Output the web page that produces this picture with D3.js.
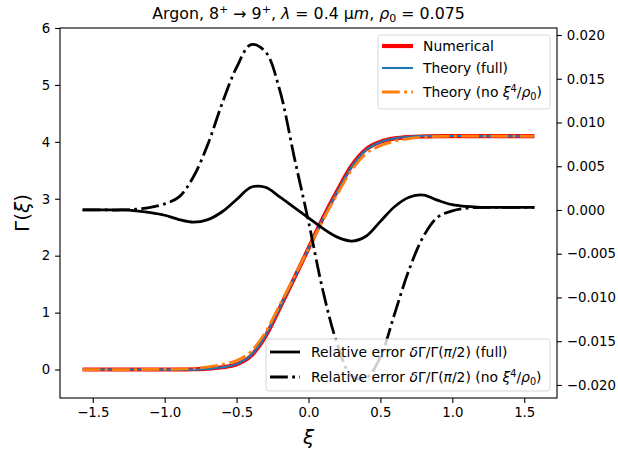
<!DOCTYPE html>
<html><head><meta charset="utf-8">
<script src="https://cdn.jsdelivr.net/npm/d3@7"></script>
<style>
body{margin:0;background:#fff}
svg{display:block}
text{font-family:"DejaVu Sans",sans-serif;white-space:pre;fill:#000}
</style>
</head><body>
<svg id="c" width="618" height="455"></svg>
<script>
// ---- data ----
const xi = [-1.5708,-1.4,-1.3,-1.2,-1.1,-1.0,-0.9,-0.8,-0.7,-0.6,-0.5,-0.4,-0.3,-0.2,-0.1,0,0.1,0.2,0.3,0.4,0.5,0.6,0.7,0.8,0.9,1.0,1.1,1.2,1.3,1.4,1.5708];
const gammaNumerical = [0,0,0,0,0,0,0.001,0.005,0.015,0.04,0.09,0.24,0.58,1.08,1.60,2.13,2.66,3.14,3.58,3.87,4.00,4.06,4.085,4.095,4.1,4.1,4.1,4.1,4.1,4.1,4.1];
const gammaTheoryFull = [0,0,0,0,0,-0.001,-0.003,-0.001,0.011,0.039,0.095,0.25,0.59,1.086,1.601,2.126,2.651,3.127,3.565,3.858,3.995,4.062,4.091,4.102,4.105,4.102,4.102,4.101,4.101,4.101,4.101];
const gammaTheoryNoXi4 = [0,0,0,0.0004,0.001,0.003,0.007,0.021,0.046,0.09,0.157,0.318,0.654,1.136,1.625,2.125,2.622,3.077,3.502,3.791,3.931,4.012,4.057,4.083,4.097,4.1,4.101,4.101,4.101,4.101,4.101];
const relErrFull = [0,0,0,-0.0001,-0.0003,-0.0006,-0.0011,-0.0014,-0.0011,-0.0002,0.0012,0.0026,0.0026,0.0015,0.0003,-0.0009,-0.0021,-0.0031,-0.00355,-0.0030,-0.0013,0.0004,0.00145,0.0017,0.0011,0.0006,0.0004,0.0003,0.0003,0.0003,0.0003];
const relErrNoXi4 = [0,0,0,0.0001,0.0003,0.0007,0.0015,0.0038,0.0075,0.0122,0.0163,0.0189,0.0181,0.0137,0.0061,-0.0013,-0.0092,-0.0153,-0.0190,-0.0192,-0.0168,-0.0118,-0.0068,-0.0030,-0.0008,-0.0001,0.0002,0.0003,0.0003,0.0003,0.0003];
const xTicks = [-1.5,-1.0,-0.5,0.0,0.5,1.0,1.5];
const yLeftTicks = [0,1,2,3,4,5,6];
const yRightTicks = [-0.020,-0.015,-0.010,-0.005,0.000,0.005,0.010,0.015,0.020];

// ---- layout ----
const M = {l:60, r:557, t:28, b:398};
const FS = 13.3, LFS = 13.9;
const svg = d3.select('#c');
const x = d3.scaleLinear().domain([-1.7279,1.7279]).range([M.l,M.r]);
const yL = d3.scaleLinear().domain([-0.5,6]).range([M.b,M.t]);
const yR = d3.scaleLinear().domain([-0.02149,0.0208]).range([M.b,M.t]);

svg.append('defs').append('clipPath').attr('id','clip')
  .append('rect').attr('x',M.l).attr('y',M.t).attr('width',M.r-M.l).attr('height',M.b-M.t);

function rich(parent, segs, fs){
  const t = parent.append('text').attr('font-size',fs);
  let shift = 0;
  segs.forEach(s=>{
    const target = s.sup ? -0.38*fs : (s.sub ? 0.2*fs : 0);
    const sp = t.append('tspan').text(s.t).attr('dy', target-shift);
    shift = target;
    if(s.sup||s.sub) sp.attr('font-size', fs*0.7);
    if(s.i) sp.attr('font-style','italic');
  });
  return t;
}

const pts = arr => xi.map((v,i)=>[v,arr[i]]);
const lineL = d3.line().x(d=>x(d[0])).y(d=>yL(d[1])).curve(d3.curveMonotoneX);
const lineR = d3.line().x(d=>x(d[0])).y(d=>yR(d[1])).curve(d3.curveCatmullRom.alpha(0.5));
const DASHDOT = '17.8,4.4,2.8,4.4';

// ---- ax1 curves ----
const g1 = svg.append('g').attr('clip-path','url(#clip)');
g1.append('path').attr('d',lineL(pts(gammaNumerical))).attr('fill','none').attr('stroke','#ff0000').attr('stroke-width',4.17);
g1.append('path').attr('d',lineL(pts(gammaTheoryFull))).attr('fill','none').attr('stroke','#1f77b4').attr('stroke-width',2.08);
g1.append('path').attr('d',lineL(pts(gammaTheoryNoXi4))).attr('fill','none').attr('stroke','#ff7f0e').attr('stroke-width',2.78).attr('stroke-dasharray',DASHDOT);

// ---- axes ----
const tickLen = 4.9, pad = 4.9;
function styleAxis(g){
  g.select('.domain').remove();
  g.selectAll('.tick line').attr('stroke','#000').attr('stroke-width',1.1);
  g.selectAll('.tick text').attr('font-size',FS).attr('font-family','"DejaVu Sans",sans-serif').attr('fill','#000');
}
svg.append('g').attr('transform',`translate(0,${M.b})`)
  .call(d3.axisBottom(x).tickValues(xTicks).tickFormat(d3.format('.1f')).tickSize(tickLen).tickPadding(pad))
  .call(styleAxis);
svg.append('g').attr('transform',`translate(${M.l},0)`)
  .call(d3.axisLeft(yL).tickValues(yLeftTicks).tickFormat(d3.format('d')).tickSize(tickLen).tickPadding(pad))
  .call(styleAxis);
svg.append('g').attr('transform',`translate(${M.r},0)`)
  .call(d3.axisRight(yR).tickValues(yRightTicks).tickFormat(d3.format('.3f')).tickSize(tickLen).tickPadding(pad))
  .call(styleAxis);

// ---- legends ----
function legend(box, rows){
  const g = svg.append('g');
  g.append('rect').attr('x',box.x).attr('y',box.y).attr('width',box.w).attr('height',box.h)
    .attr('rx',3).attr('fill','#fff').attr('fill-opacity',0.8).attr('stroke','#cccccc').attr('stroke-opacity',0.8).attr('stroke-width',1);
  rows.forEach(r=>{
    const l = g.append('line').attr('x1',box.hx).attr('x2',box.hx+box.hl).attr('y1',r.y).attr('y2',r.y)
      .attr('stroke',r.color).attr('stroke-width',r.w);
    if(r.dash) l.attr('stroke-dasharray',r.dash);
    rich(g, r.segs, LFS).attr('x',box.tx).attr('y',r.y+5);
  });
}
legend({x:378,y:35,w:172,h:74,hx:382,hl:31,tx:423},[
  {y:46,color:'#ff0000',w:4.17,segs:[{t:'Numerical'}]},
  {y:68,color:'#1f77b4',w:2.08,segs:[{t:'Theory (full)'}]},
  {y:92,color:'#ff7f0e',w:2.78,dash:DASHDOT,segs:[{t:'Theory (no '},{t:'ξ',i:1},{t:'4',sup:1},{t:'/'},{t:'ρ',i:1},{t:'0',sub:1},{t:')'}]}
]);

// ---- ax2 curves ----
const g2 = svg.append('g').attr('clip-path','url(#clip)');
g2.append('path').attr('d',lineR(pts(relErrFull))).attr('fill','none').attr('stroke','#000').attr('stroke-width',2.78);
g2.append('path').attr('d',lineR(pts(relErrNoXi4))).attr('fill','none').attr('stroke','#000').attr('stroke-width',2.78).attr('stroke-dasharray',DASHDOT);

legend({x:266,y:339,w:284,h:52,hx:270,hl:30,tx:311},[
  {y:352,color:'#000',w:2.78,segs:[{t:'Relative error '},{t:'δ',i:1},{t:'Γ/Γ('},{t:'π',i:1},{t:'/2) (full)'}]},
  {y:377,color:'#000',w:2.78,dash:DASHDOT,segs:[{t:'Relative error '},{t:'δ',i:1},{t:'Γ/Γ('},{t:'π',i:1},{t:'/2) (no '},{t:'ξ',i:1},{t:'4',sup:1},{t:'/'},{t:'ρ',i:1},{t:'0',sub:1},{t:')'}]}
]);

// ---- spines ----
svg.append('rect').attr('x',M.l).attr('y',M.t).attr('width',M.r-M.l).attr('height',M.b-M.t)
  .attr('fill','none').attr('stroke','#000').attr('stroke-width',1.1);

// ---- titles / labels ----
rich(svg,[{t:'Argon, 8'},{t:'+',sup:1},{t:' → 9'},{t:'+',sup:1},{t:', '},{t:'λ',i:1},{t:' = 0.4 μ'},{t:'m',i:1},{t:', '},{t:'ρ',i:1},{t:'0',sub:1},{t:' = 0.075'}],15.8)
  .attr('x',(M.l+M.r)/2).attr('y',19).attr('text-anchor','middle');
rich(svg,[{t:'ξ',i:1}],20).attr('x',(M.l+M.r)/2).attr('y',444).attr('text-anchor','middle');
rich(svg,[{t:'Γ('},{t:'ξ',i:1},{t:')'}],20).attr('text-anchor','middle')
  .attr('transform','translate(29,213) rotate(-90)');
</script>
</body></html>
